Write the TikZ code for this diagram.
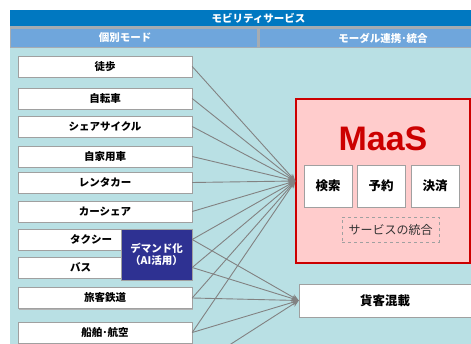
\documentclass[tikz,border=0pt]{standalone}
\usepackage{fontspec}
\setmainfont{Noto Sans CJK JP}
\newfontfamily\maasfont{Liberation Sans}
\usetikzlibrary{arrows.meta}
\usetikzlibrary{shadows}
\definecolor{hdrblue}{RGB}{0,120,193}
\definecolor{subblue}{RGB}{111,166,220}
\definecolor{framegray}{RGB}{165,172,178}
\definecolor{bodyteal}{RGB}{185,224,228}
\definecolor{boxgray}{RGB}{160,160,160}
\definecolor{demandblue}{RGB}{46,49,146}
\definecolor{maasfill}{RGB}{255,204,204}
\definecolor{maasred}{RGB}{204,0,0}
\definecolor{linkgray}{RGB}{130,130,130}

\tikzset{
  hdrtext/.style={text=white, inner sep=0pt,
    font=\bfseries\fontsize{10.5}{12}\selectfont},
  modebox/.style={draw=boxgray, fill=white, inner sep=0pt, minimum width=174pt,
    minimum height=21pt, font=\bfseries\fontsize{10.5}{12}\selectfont,
    drop shadow={shadow xshift=1.3pt, shadow yshift=-1.3pt, fill=black!30, opacity=1}},
  funcbox/.style={modebox, minimum width=48pt, minimum height=42pt,
    font=\bfseries\fontsize{12.5}{14}\selectfont},
  link/.style={draw=linkgray, line width=0.9pt, -{Stealth[length=7pt,width=6pt]}},
}

\begin{document}
\begin{tikzpicture}[x=1pt,y=-1pt]
\useasboundingbox (0,0) rectangle (471,344);

% header
\fill[hdrblue] (10,10) rectangle (471,26);
\node[hdrtext] (mobility) at (258.5,18) {モビリティサービス};
\fill[framegray] (10,26) rectangle (471,48);
\fill[subblue] (11,29) rectangle (257,47);
\fill[subblue] (260,29) rectangle (471,47);
\node[hdrtext] (kobetsu) at (125,38) {個別モード};
\node[hdrtext] (modal) at (383,38) {モーダル連携･統合};
\fill[bodyteal] (10,48) rectangle (471,344);

% individual modes
\node[modebox] (toho) at (105,66.5) {徒歩};
\node[modebox] (jitensha) at (105,98.5) {自転車};
\node[modebox] (share) at (105,126.5) {シェアサイクル};
\node[modebox] (jika) at (105,156.5) {自家用車};
\node[modebox] (rental) at (105,182.5) {レンタカー};
\node[modebox] (carshare) at (105,211.5) {カーシェア};
\node[modebox] (taxi) at (105,239.5) {};
\node[modebox] (bus) at (105,267.5) {};
\node[anchor=west, inner sep=0pt, font=\bfseries\fontsize{10.5}{12}\selectfont] (taxitext) at (70,239.5) {タクシー};
\node[anchor=west, inner sep=0pt, font=\bfseries\fontsize{10.5}{12}\selectfont] (bustext) at (70,267.5) {バス};
\node[modebox, fill=demandblue, text=white, minimum width=71pt, minimum height=51pt,
  align=center] (demand) at (156.5,254.5) {デマンド化\\（AI活用）};
\node[modebox] (tetsudo) at (105,298) {旅客鉄道};
\node[modebox] (senpaku) at (105,332.5) {船舶･航空};
\coordinate (offbelow) at (192,369);

% modal integration
\node[draw=maasred, line width=1.4pt, fill=maasfill, minimum width=174pt,
  minimum height=164pt] (maas) at (383,181) {};
\node[text=maasred, font=\maasfont\bfseries\fontsize{34}{36}\selectfont] (maastitle) at (383,139) {MaaS};
\node[funcbox] (kensaku) at (328,186) {検索};
\node[funcbox] (yoyaku) at (381,186) {予約};
\node[funcbox] (kessai) at (435,186) {決済};
\node[draw=boxgray, dashed, fill=maasfill, minimum width=97pt, minimum height=25pt,
  text=black!80, font=\fontsize{12}{14}\selectfont] (togo) at (390.5,229.5) {サービスの統合};
\node[modebox, minimum width=172pt, minimum height=33pt,
  font=\bfseries\fontsize{12.5}{14}\selectfont] (kakyaku) at (385,300.5) {貨客混載};

% connectors
\foreach \m in {toho,jitensha,share,jika,rental,carshare}
  \draw[link] (\m.east) -- (maas.west);
\foreach \m in {taxi,bus}
  \draw[link] (demand.east |- \m) -- (maas.west);
\foreach \m in {taxi,bus}
  \draw[link] (demand.east |- \m) -- (kakyaku.west);
\foreach \m in {tetsudo,senpaku}
  \draw[link] (\m.east) -- (maas.west);
\foreach \m in {tetsudo,senpaku}
  \draw[link] (\m.east) -- (kakyaku.west);
\draw[link] (offbelow) -- (kakyaku.west);
\end{tikzpicture}
\end{document}
